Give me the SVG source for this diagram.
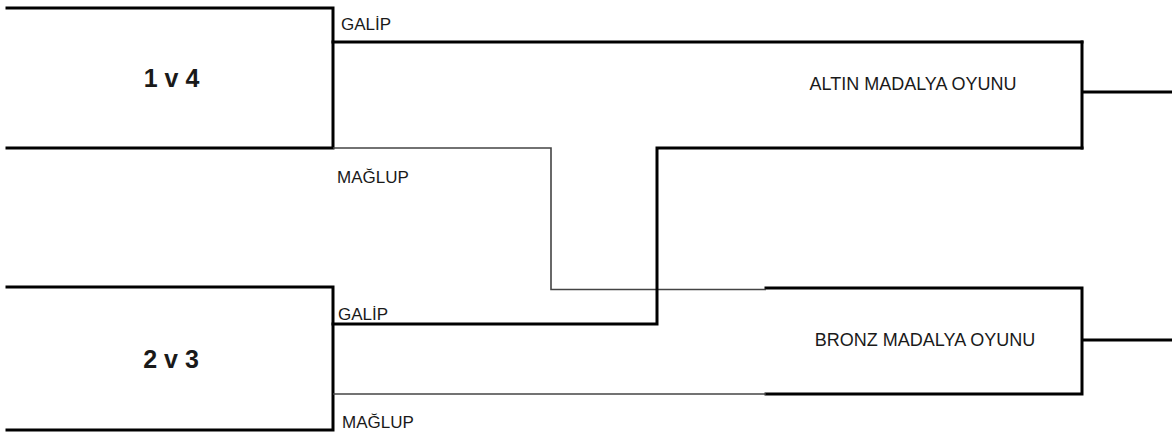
<svg xmlns="http://www.w3.org/2000/svg" width="1172" height="432" viewBox="0 0 1172 432">
<style>
.thick{fill:none;stroke:#000;stroke-width:3;stroke-linecap:square;stroke-linejoin:miter}
.thin{fill:none;stroke:#444;stroke-width:1.6;stroke-linejoin:miter}
.lbl{font-family:"Liberation Sans",Arial,sans-serif;font-size:17px;fill:#1a1a1a}
.game{font-family:"Liberation Sans",Arial,sans-serif;font-size:18px;fill:#1a1a1a;text-anchor:middle}
.match{font-family:"Liberation Sans",Arial,sans-serif;font-size:25px;font-weight:bold;fill:#1a1a1a;text-anchor:middle}
</style>
<rect width="1172" height="432" fill="#fff"/>
<g id="match-1v4">
<path class="thick" d="M7,8 H333 V148 H7"/>
<text class="match" x="171.5" y="87">1 v 4</text>
</g>
<g id="match-2v3">
<path class="thick" d="M7,287 H333 V430 H7"/>
<text class="match" x="171" y="368">2 v 3</text>
</g>
<g id="gold-game">
<path class="thick" d="M1082,42 V148 M1082,92 H1172"/>
<text class="game" x="913" y="90">ALTIN MADALYA OYUNU</text>
</g>
<g id="bronze-game">
<path class="thick" d="M766,288 H1082 V394 H766 M1082,340 H1172"/>
<text class="game" x="925" y="346">BRONZ MADALYA OYUNU</text>
</g>
<g id="connectors">
<path class="thick" d="M333,42 H1082"/>
<path class="thin" d="M333,148 H551 V289.5 H766"/>
<path class="thick" d="M333,324 H657 V148 H1082"/>
<path class="thin" d="M333,394 H766"/>
<text class="lbl" x="341" y="30">GALİP</text>
<text class="lbl" x="337" y="183">MAĞLUP</text>
<text class="lbl" x="338" y="320">GALİP</text>
<text class="lbl" x="342" y="428">MAĞLUP</text>
</g>
</svg>
